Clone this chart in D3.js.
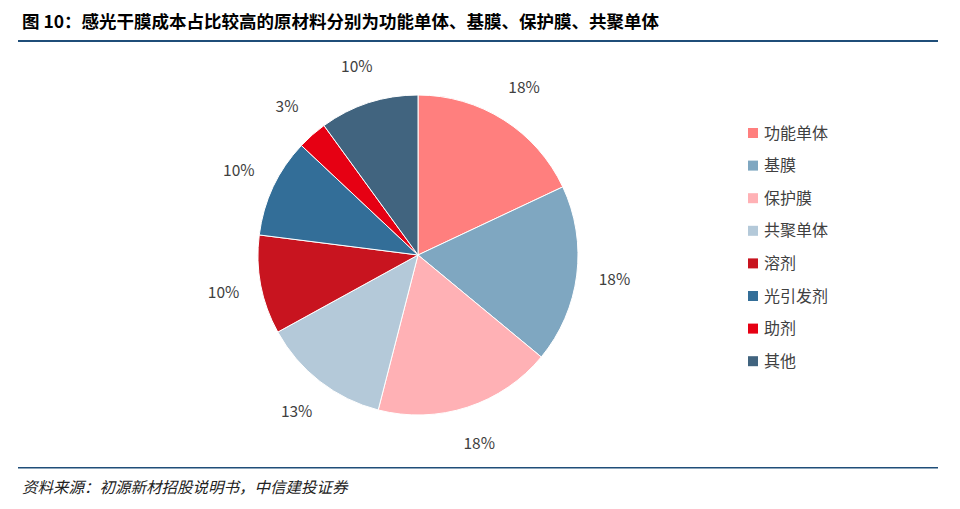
<!DOCTYPE html>
<html><head><meta charset="utf-8">
<script src="https://cdn.jsdelivr.net/npm/d3@7"></script>
<style>body{margin:0;background:#fff}</style>
</head><body>
<svg width="960" height="509"></svg>
<script>
const categories = ["功能单体", "基膜", "保护膜", "共聚单体", "溶剂", "光引发剂", "助剂", "其他"]
const values = [18, 18, 18, 13, 10, 10, 3, 10]
const colors = ["#FF7F7E", "#7FA7C1", "#FFB1B5", "#B4C9D9", "#C8141F", "#336E98", "#E60013", "#41647F"]

const svg = d3.select('svg')
const font = "'Noto Sans CJK SC', sans-serif"

// Title and rules
svg.append('text').attr('x', 22).attr('y', 28).text('图 10：感光干膜成本占比较高的原材料分别为功能单体、基膜、保护膜、共聚单体')
    .style('font-family', font).style('font-weight', 'bold').style('font-size', '17.5px').attr('fill', '#000')
svg.append('rect').attr('x', 18).attr('y', 40).attr('width', 920).attr('height', 2).attr('fill', '#1F4E79')
svg.append('rect').attr('x', 18).attr('y', 467).attr('width', 920).attr('height', 1.5).attr('fill', '#1F4E79')
svg.append('text').attr('x', 22).attr('y', 493).text('资料来源：初源新材招股说明书，中信建投证券')
    .style('font-family', font).style('font-style', 'italic').style('font-size', '15.5px').attr('fill', '#222')

// Pie
const cx = 418, cy = 255, r = 160
const pie = d3.pie().sort(null).value(d => d)
const arc = d3.arc().innerRadius(0).outerRadius(r)
const labelArc = d3.arc().innerRadius(198).outerRadius(198)
const g = svg.append('g').attr('transform', `translate(${cx},${cy})`)
const arcs = pie(values)
g.selectAll('path').data(arcs).enter().append('path')
    .attr('d', arc).attr('fill', (d, i) => colors[i])
    .attr('stroke', '#fff').attr('stroke-width', 1)
g.selectAll('text').data(arcs).enter().append('text')
    .attr('transform', d => `translate(${labelArc.centroid(d)})`)
    .attr('text-anchor', 'middle').attr('dy', '0.35em')
    .style('font-family', font).style('font-size', '15.5px').attr('fill', '#404040')
    .text(d => d.data + '%')

// Legend
const legend = svg.append('g').selectAll('g').data(categories).enter().append('g')
    .attr('transform', (d, i) => `translate(748,${133 + i * 32.6})`)
legend.append('rect').attr('x', 0).attr('y', -5).attr('width', 10).attr('height', 10)
    .attr('fill', (d, i) => colors[i])
legend.append('text').attr('x', 16).attr('dy', '0.35em').text(d => d)
    .style('font-family', font).style('font-size', '16px').attr('fill', '#404040')
</script>
</body></html>
